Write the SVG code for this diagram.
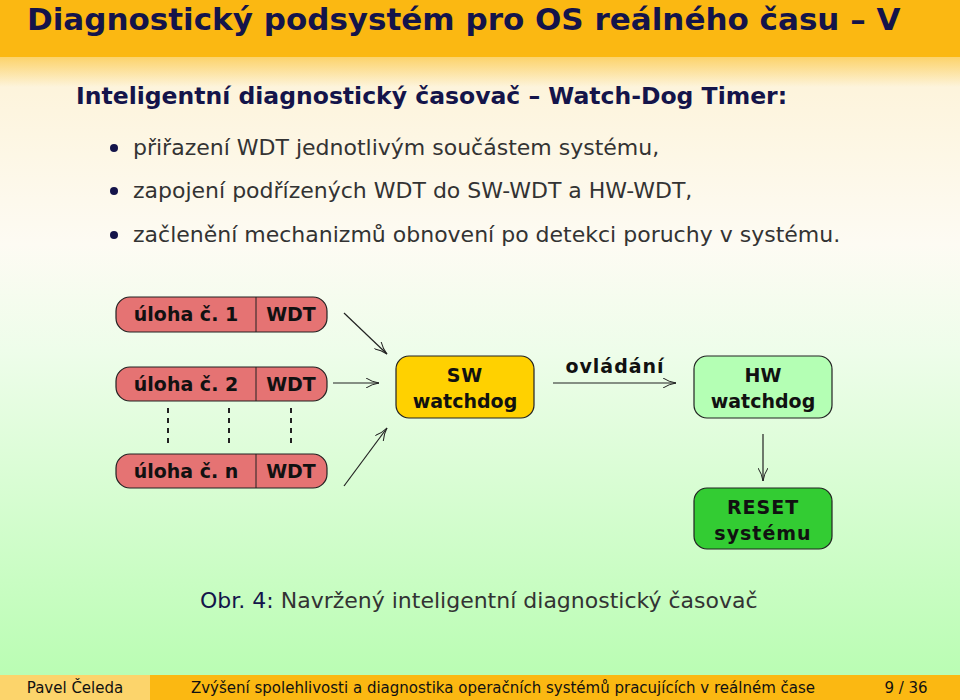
<svg xmlns="http://www.w3.org/2000/svg" width="960" height="700" viewBox="0 0 960 700">
<defs>
<linearGradient id="bg" x1="0" y1="0" x2="0" y2="1">
<stop offset="0" stop-color="#fdf0cf"/>
<stop offset="0.35" stop-color="#fdfbf3"/>
<stop offset="0.5" stop-color="#eefdea"/>
<stop offset="1" stop-color="#b6fdaf"/>
</linearGradient>
<linearGradient id="fade" x1="0" y1="0" x2="0" y2="1">
<stop offset="0" stop-color="#fcd36b"/>
<stop offset="1" stop-color="#fcd36b" stop-opacity="0"/>
</linearGradient>
<marker id="ah" markerWidth="14" markerHeight="10" refX="13" refY="5" orient="auto" markerUnits="userSpaceOnUse">
<path d="M0,0 Q6,4 13,5 Q6,6 0,10" fill="none" stroke="#222" stroke-width="1"/>
</marker>
<style>
text{font-family:"DejaVu Sans","Liberation Sans",sans-serif}
.t{fill:#333;font-size:22px}
.task{fill:#e57373;stroke:#222;stroke-width:1.2}
.bt{font-size:19px;font-weight:bold;fill:#111}
.c{stroke:#222;stroke-width:1.2;fill:none;marker-end:url(#ah)}
.dash{stroke:#222;stroke-width:2;stroke-dasharray:5,5}
</style>
</defs>
<rect width="960" height="700" fill="url(#bg)"/>
<rect y="57" width="960" height="30" fill="url(#fade)"/>
<rect width="960" height="57" fill="#fbb812"/>
<text x="27" y="30" font-size="31" font-weight="bold" fill="#14144a">Diagnostický podsystém pro OS reálného času – V</text>
<text x="76" y="104" font-size="23.5" font-weight="bold" fill="#14144a">Inteligentní diagnostický časovač – Watch-Dog Timer:</text>
<g fill="#14144a"><circle cx="114" cy="148" r="4"/><circle cx="114" cy="191" r="4"/><circle cx="114" cy="235" r="4"/></g>
<text class="t" x="133" y="155">přiřazení WDT jednotlivým součástem systému,</text>
<text class="t" x="133" y="198">zapojení podřízených WDT do SW-WDT a HW-WDT,</text>
<text class="t" x="133" y="242">začlenění mechanizmů obnovení po detekci poruchy v systému.</text>
<g id="task1"><rect class="task" x="116" y="297" width="211" height="35" rx="14"/><line x1="256" y1="297" x2="256" y2="332" stroke="#222"/><text class="bt" x="186" y="321" text-anchor="middle">úloha č. 1</text><text class="bt" x="291" y="321" text-anchor="middle">WDT</text></g>
<g id="task2"><rect class="task" x="116" y="367" width="211" height="34" rx="14"/><line x1="256" y1="367" x2="256" y2="401" stroke="#222"/><text class="bt" x="186" y="391" text-anchor="middle">úloha č. 2</text><text class="bt" x="291" y="391" text-anchor="middle">WDT</text></g>
<g id="dots"><line class="dash" x1="168" y1="408" x2="168" y2="446"/><line class="dash" x1="229" y1="408" x2="229" y2="446"/><line class="dash" x1="291" y1="408" x2="291" y2="446"/></g>
<g id="taskn"><rect class="task" x="116" y="454" width="211" height="34" rx="14"/><line x1="256" y1="454" x2="256" y2="488" stroke="#222"/><text class="bt" x="186" y="478" text-anchor="middle">úloha č. n</text><text class="bt" x="291" y="478" text-anchor="middle">WDT</text></g>
<g id="sw"><rect x="396" y="356" width="138" height="62" rx="13" fill="#ffd100" stroke="#222" stroke-width="1.2"/><text class="bt" x="465" y="382" text-anchor="middle" letter-spacing="1">SW</text><text class="bt" x="465" y="408" text-anchor="middle">watchdog</text></g>
<g id="hw"><rect x="694" y="356" width="138" height="62" rx="13" fill="#b4ffb4" stroke="#222" stroke-width="1.2"/><text class="bt" x="763" y="382" text-anchor="middle">HW</text><text class="bt" x="763" y="408" text-anchor="middle">watchdog</text></g>
<g id="reset"><rect x="694" y="488" width="138" height="61" rx="13" fill="#33cc33" stroke="#222" stroke-width="1.2"/><text class="bt" x="763" y="514" text-anchor="middle" letter-spacing="1">RESET</text><text class="bt" x="763" y="540" text-anchor="middle" letter-spacing="1">systému</text></g>
<g id="connectors">
<line class="c" x1="344" y1="313" x2="387" y2="354"/>
<line class="c" x1="333" y1="383" x2="379" y2="383"/>
<line class="c" x1="344" y1="486" x2="387" y2="428"/>
<line class="c" x1="553" y1="383" x2="676" y2="383"/>
<line class="c" x1="763" y1="434" x2="763" y2="481"/>
<text class="bt" x="615" y="373" text-anchor="middle" letter-spacing="1">ovládání</text>
</g>
<text x="200" y="608" font-size="22" fill="#333"><tspan fill="#14144a">Obr. 4:</tspan> Navržený inteligentní diagnostický časovač</text>
<rect y="675" width="960" height="25" fill="#fbb812"/>
<rect y="675" width="150" height="25" fill="#fcd46b"/>
<g font-size="15" fill="#111"><text x="75" y="693" text-anchor="middle">Pavel Čeleda</text><text x="503" y="693" text-anchor="middle">Zvýšení spolehlivosti a diagnostika operačních systémů pracujících v reálném čase</text><text x="906" y="693" text-anchor="middle">9 / 36</text></g>
</svg>
